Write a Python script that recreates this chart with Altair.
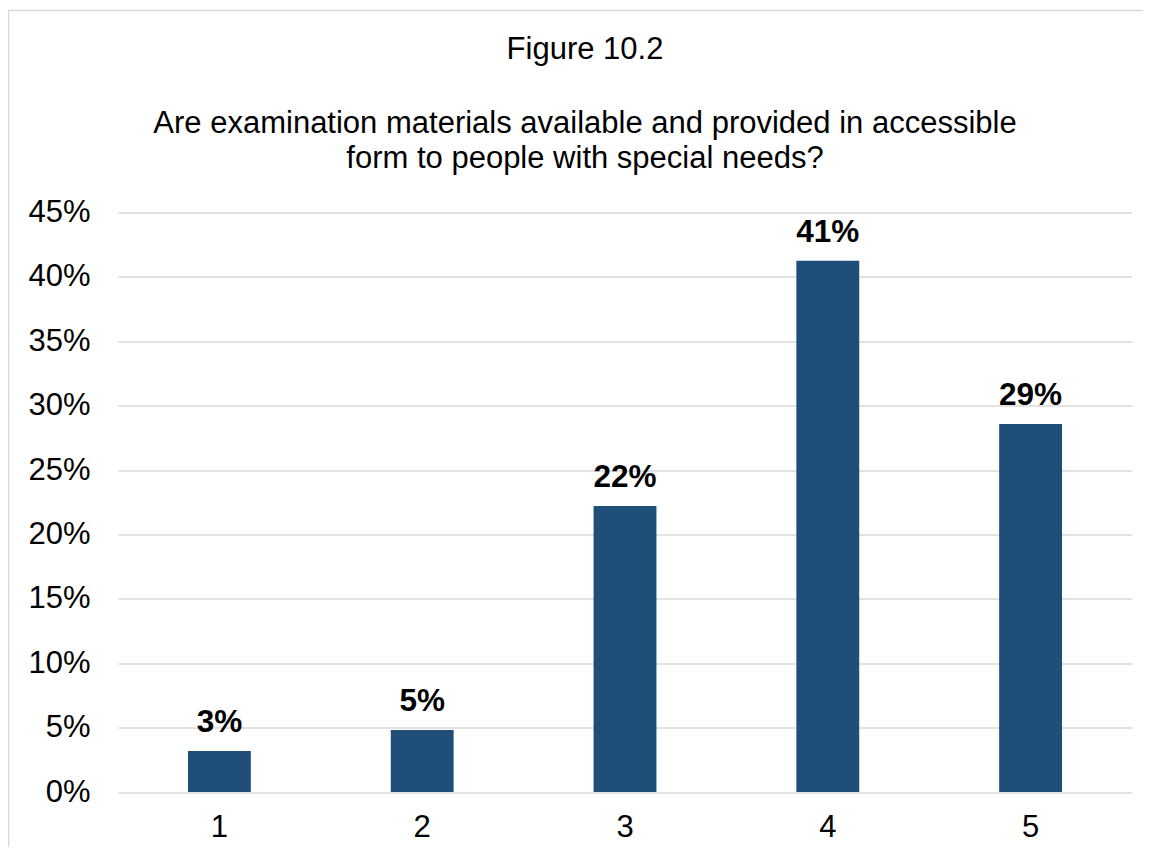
import altair as alt
import pandas as pd

categories = ["1", "2", "3", "4", "5"]
values = [0.0318, 0.0481, 0.222, 0.4126, 0.2858]
title_text = "Figure 10.2"
subtitle_lines = [
    "Are examination materials available and provided in accessible",
    "form to people with special needs?",
]

df = pd.DataFrame({"cat": categories, "val": values})
FONT = "Liberation Sans"

x_enc = alt.X(
    "cat:N",
    sort=categories,
    scale=alt.Scale(paddingInner=0.69, paddingOuter=0.345),
    axis=alt.Axis(
        title=None, labelAngle=0, labelFontSize=31, labelFont=FONT,
        labelColor="#000000", ticks=False, domain=False, labelPadding=20,
        grid=False,
    ),
)
y_enc = alt.Y(
    "val:Q",
    scale=alt.Scale(domain=[0, 0.45], nice=False),
    axis=alt.Axis(
        title=None, format=".0%", values=[i * 0.05 for i in range(10)],
        labelFontSize=31, labelFont=FONT, labelColor="#000000",
        ticks=False, domain=False, labelPadding=28,
        gridColor="#D9D9D9", gridWidth=1.3,
    ),
)

bars = alt.Chart(df).mark_bar(color="#1F4E79").encode(x=x_enc, y=y_enc)
labels = alt.Chart(df).mark_text(
    font=FONT, fontSize=31.5, fontWeight="bold", color="#000000",
    baseline="alphabetic", dy=-19,
).encode(x=alt.X("cat:N", sort=categories), y="val:Q", text=alt.Text("val:Q", format=".0%"))

one = alt.Data(values=[{"a": 1}])
border = alt.Chart(one).mark_rect(
    fillOpacity=0, stroke="#D9D9D9", strokeWidth=1.5, clip=False
).encode(
    x=alt.value(-109.5), x2=alt.value(1100), y=alt.value(-202), y2=alt.value(700)
)

title = alt.Chart(one).mark_text(
    text=title_text, font=FONT, fontSize=31, color="#000000",
    align="center", baseline="alphabetic",
).encode(x=alt.value(467), y=alt.value(-153.5))

subtitle = alt.Chart(one).mark_text(
    text=subtitle_lines, font=FONT, fontSize=31, color="#000000",
    lineHeight=35.5, align="center", baseline="alphabetic",
).encode(x=alt.value(467), y=alt.value(-80))

chart = alt.layer(border, bars, labels, title, subtitle).properties(
    width=1014,
    height=579.5,
    autosize="none",
    padding={"left": 110, "top": 204.5, "right": 11, "bottom": 55},
).configure_view(stroke=None)

chart.save("out.html", embed_options={"renderer": "svg", "actions": False})
